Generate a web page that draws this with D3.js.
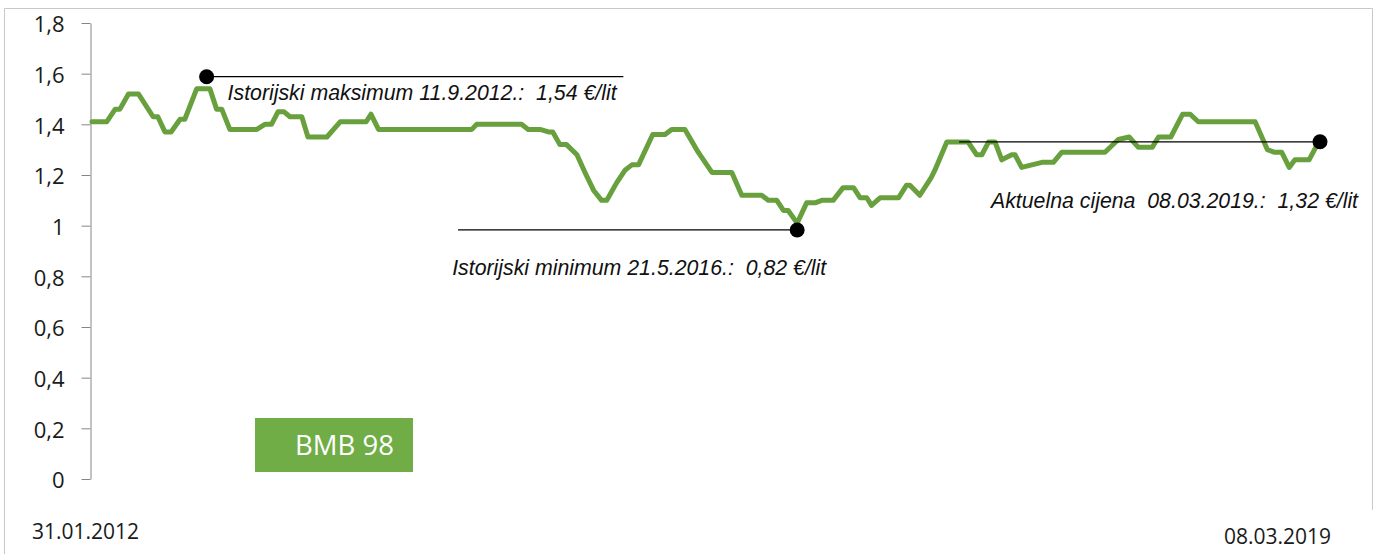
<!DOCTYPE html>
<html>
<head>
<meta charset="utf-8">
<script src="https://cdn.jsdelivr.net/npm/d3@7"></script>
<style>
  html, body { margin: 0; padding: 0; background: #fff; }
  svg { display: block; }
  text { white-space: pre; }
</style>
</head>
<body>
<svg id="chart" width="1377" height="554"></svg>
<script>
// ---------------- DATA ----------------
const dates = [
  "2012-01-31","2012-03-02","2012-03-20","2012-03-30","2012-04-17","2012-05-08","2012-06-08","2012-06-18",
  "2012-07-03","2012-07-16","2012-08-04","2012-08-14","2012-09-08","2012-10-06","2012-10-20","2012-10-31",
  "2012-11-17","2013-01-13","2013-01-30","2013-02-13","2013-02-27","2013-03-11","2013-03-24","2013-04-18",
  "2013-05-01","2013-06-10","2013-07-08","2013-09-01","2013-09-11","2013-09-27","2014-04-12","2014-04-22",
  "2014-07-26","2014-08-09","2014-09-03","2014-09-21","2014-09-30","2014-10-15","2014-10-29","2014-11-20",
  "2014-12-07","2014-12-25","2015-01-11","2015-01-22","2015-02-12","2015-03-02","2015-03-16","2015-03-30",
  "2015-04-29","2015-05-25","2015-06-08","2015-07-06","2015-08-03","2015-09-01","2015-10-13","2015-11-03",
  "2015-12-15","2015-12-29","2016-01-16","2016-01-30","2016-02-09","2016-02-28","2016-03-19","2016-04-06",
  "2016-04-20","2016-05-14","2016-06-04","2016-06-26","2016-07-10","2016-07-24","2016-08-03","2016-08-21",
  "2016-09-29","2016-10-16","2016-10-23","2016-11-13","2016-12-07","2016-12-15","2017-01-09","2017-02-23",
  "2017-03-13","2017-03-24","2017-04-07","2017-04-21","2017-05-05","2017-05-26","2017-06-02","2017-06-16",
  "2017-07-29","2017-08-22","2017-09-09","2017-12-09","2018-01-06","2018-01-29","2018-02-17","2018-03-19",
  "2018-04-01","2018-04-27","2018-05-22","2018-06-07","2018-06-24","2018-10-22","2018-11-17","2018-12-01",
  "2018-12-17","2019-01-02","2019-01-14","2019-02-13","2019-03-02","2019-03-08"
];
const prices = [
  1.41,1.41,1.46,1.46,1.52,1.52,1.43,1.43,
  1.37,1.37,1.42,1.42,1.54,1.54,1.46,1.46,
  1.38,1.38,1.40,1.40,1.45,1.45,1.43,1.43,
  1.35,1.35,1.41,1.41,1.44,1.38,1.38,1.40,
  1.40,1.38,1.38,1.37,1.37,1.32,1.32,1.28,
  1.21,1.14,1.10,1.10,1.17,1.22,1.24,1.24,
  1.36,1.36,1.38,1.38,1.29,1.21,1.21,1.12,
  1.12,1.10,1.10,1.06,1.06,1.01,1.09,1.09,
  1.10,1.10,1.15,1.15,1.11,1.11,1.08,1.11,
  1.11,1.16,1.16,1.12,1.19,1.22,1.33,1.33,
  1.28,1.28,1.33,1.33,1.26,1.28,1.28,1.23,
  1.25,1.25,1.29,1.29,1.34,1.35,1.31,1.31,
  1.35,1.35,1.44,1.44,1.41,1.41,1.30,1.29,
  1.29,1.23,1.26,1.26,1.32,1.33
];
const yTicks = [0, 0.2, 0.4, 0.6, 0.8, 1, 1.2, 1.4, 1.6, 1.8];
const yTickLabels = ["0","0,2","0,4","0,6","0,8","1","1,2","1,4","1,6","1,8"];
const xLabels = ["31.01.2012", "08.03.2019"];
const xDomain = ["2012-01-31", "2019-03-08"];
const seriesName = "BMB 98";

// annotations: marker date/value, line start/end dates, label text
const annTexts = [
  "Istorijski maksimum 11.9.2012.:  1,54 €/lit",
  "Istorijski minimum 21.5.2016.:  0,82 €/lit",
  "Aktuelna cijena  08.03.2019.:  1,32 €/lit"
];
const annDates = ["2012-09-29", "2016-02-28", "2019-03-08"];
const annValues = [1.588, 0.983, 1.331];
const annLineFrom = ["2012-09-29", "2014-03-14", "2017-02-04"];
const annLineTo = ["2015-02-26", "2016-02-28", "2019-03-08"];

// ---------------- DRAW ----------------
const parse = d3.timeParse("%Y-%m-%d");
const svg = d3.select("#chart");

const x = d3.scaleTime()
  .domain(xDomain.map(parse))
  .range([92, 1320]);
const y = d3.scaleLinear()
  .domain([0, 1.8])
  .range([479, 23]);

const tickFont = "'Open Sans', 'Noto Sans', sans-serif";

// frame
svg.append("path")
  .attr("d", "M4.5,554 L4.5,8.5 L1372.5,8.5 L1372.5,510")
  .attr("fill", "none")
  .attr("stroke", "#c8c8c8")
  .attr("stroke-width", 1);

// y axis
const yAxis = d3.axisLeft(y)
  .tickValues(yTicks)
  .tickFormat((d, i) => yTickLabels[i])
  .tickSize(9)
  .tickSizeOuter(0)
  .tickPadding(17);

const gy = svg.append("g")
  .attr("transform", "translate(90.5,0)")
  .call(yAxis);
gy.select(".domain").attr("stroke", "#868686");
gy.selectAll(".tick line").attr("stroke", "#868686");
gy.selectAll(".tick text")
  .attr("fill", "#1a1a1a")
  .style("font-family", tickFont)
  .style("font-size", "22px")
  .attr("dy", "0.40em");

// x labels (start / end)
svg.append("text")
  .attr("x", x(parse(xDomain[0])) - 60)
  .attr("y", 539)
  .attr("fill", "#1a1a1a")
  .style("font-family", tickFont)
  .style("font-size", "21px")
  .text(xLabels[0]);
svg.append("text")
  .attr("x", x(parse(xDomain[1])) - 96)
  .attr("y", 544)
  .attr("fill", "#1a1a1a")
  .style("font-family", tickFont)
  .style("font-size", "21px")
  .text(xLabels[1]);

// series line
const data = dates.map((d, i) => ({ date: parse(d), value: prices[i] }));
const line = d3.line()
  .x(d => x(d.date))
  .y(d => y(d.value));
svg.append("path")
  .datum(data)
  .attr("d", line)
  .attr("fill", "none")
  .attr("stroke", "#68a03e")
  .attr("stroke-width", 5)
  .attr("stroke-linejoin", "round")
  .attr("stroke-linecap", "round");

// annotations
const labelOffsets = [[21, 23], [-345, 45], [-329, 66]];
annTexts.forEach((t, i) => {
  const mx = x(parse(annDates[i]));
  const my = y(annValues[i]);
  svg.append("line")
    .attr("x1", x(parse(annLineFrom[i])))
    .attr("x2", x(parse(annLineTo[i])))
    .attr("y1", my)
    .attr("y2", my)
    .attr("stroke", "#000")
    .attr("stroke-width", 1.3);
  svg.append("circle")
    .attr("cx", mx)
    .attr("cy", my)
    .attr("r", 7.5)
    .attr("fill", "#000");
  svg.append("text")
    .attr("x", mx + labelOffsets[i][0])
    .attr("y", my + labelOffsets[i][1])
    .attr("fill", "#111")
    .style("font-family", "'Liberation Sans', Arial, sans-serif")
    .style("font-style", "italic")
    .style("font-size", "21.3px")
    .text(t);
});

// legend box
const lg = svg.append("g");
lg.append("rect")
  .attr("x", 255)
  .attr("y", 418)
  .attr("width", 158)
  .attr("height", 54)
  .attr("fill", "#70ad47");
lg.append("text")
  .attr("x", 295)
  .attr("y", 455)
  .attr("fill", "#fff")
  .style("font-family", tickFont)
  .style("font-size", "27.5px")
  .text(seriesName);
</script>
</body>
</html>
